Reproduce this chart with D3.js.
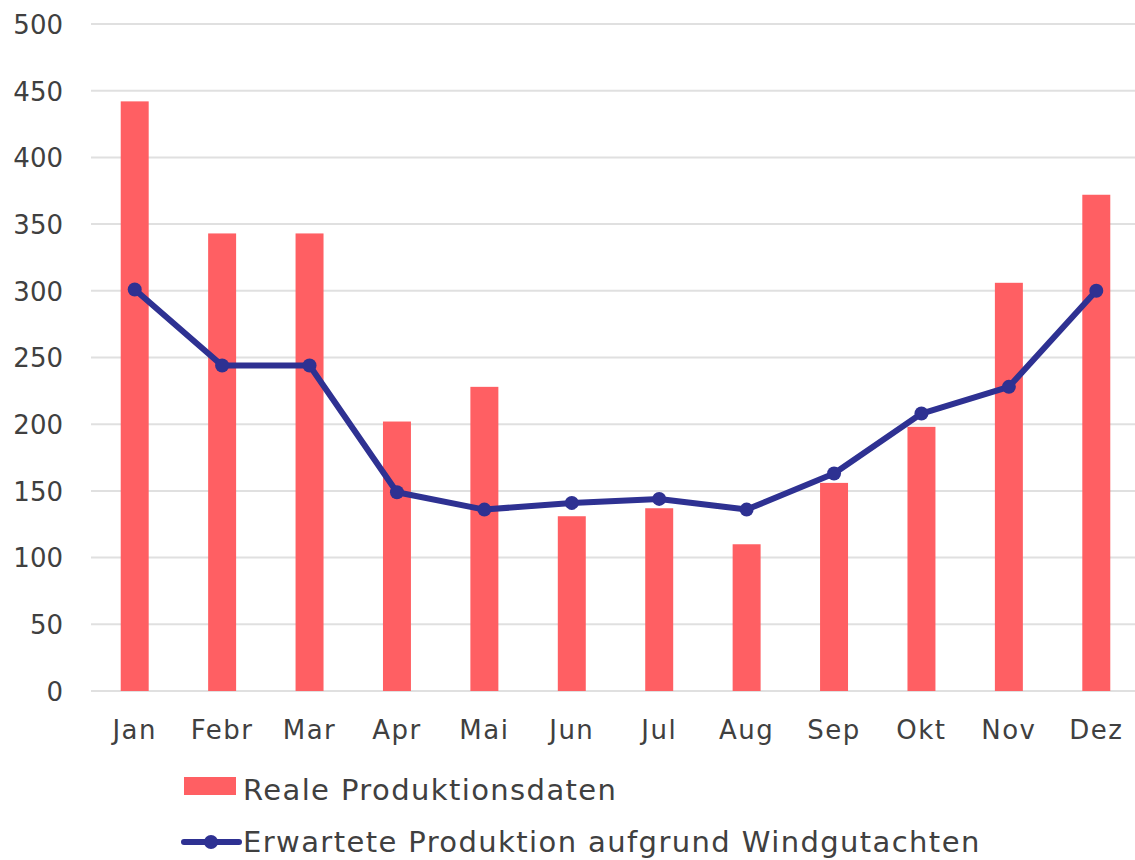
<!DOCTYPE html>
<html>
<head>
<meta charset="utf-8">
<script src="https://cdn.jsdelivr.net/npm/d3@7"></script>
<style>
    body { margin: 0; background: #fff; }
    text { font-family: "DejaVu Sans", Verdana, sans-serif; fill: #404040; }
</style>
</head>
<body>
<div id="chart"></div>
<script>
const months = ['Jan', 'Febr', 'Mar', 'Apr', 'Mai', 'Jun', 'Jul', 'Aug', 'Sep', 'Okt', 'Nov', 'Dez'];
const realValues = [442, 343, 343, 202, 228, 131, 137, 110, 156, 198, 306, 372];
const expectedValues = [301, 244, 244, 149, 136, 141, 144, 136, 163, 208, 228, 300];
const yTicks = [0, 50, 100, 150, 200, 250, 300, 350, 400, 450, 500];
const seriesNames = ['Reale Produktionsdaten', 'Erwartete Produktion aufgrund Windgutachten'];

const width = 1135;
const height = 860;
const barColor = '#ff5f63';
const lineColor = '#2e3192';

const svg = d3.select('#chart').append('svg')
    .attr('width', width)
    .attr('height', height);

const scaleY = d3.scaleLinear()
    .domain([0, 500])
    .range([691, 24]);

const scaleX = d3.scaleBand()
    .domain(months)
    .range([91, 1140])
    .paddingInner(0.68)
    .paddingOuter(0.34);

const center = m => scaleX(m) + scaleX.bandwidth() / 2;

// gridlines
svg.append('g')
    .selectAll('line')
    .data(yTicks)
    .enter()
    .append('line')
    .attr('x1', 91)
    .attr('x2', width)
    .attr('y1', d => scaleY(d))
    .attr('y2', d => scaleY(d))
    .attr('stroke', '#e0e0e0')
    .attr('stroke-width', 2);

// y labels
svg.append('g')
    .selectAll('text')
    .data(yTicks)
    .enter()
    .append('text')
    .attr('x', 63)
    .attr('y', d => scaleY(d))
    .attr('dy', '0.38em')
    .attr('text-anchor', 'end')
    .style('font-size', '26px')
    .text(d => d);

// x labels
svg.append('g')
    .selectAll('text')
    .data(months)
    .enter()
    .append('text')
    .attr('x', d => center(d))
    .attr('y', 739)
    .attr('text-anchor', 'middle')
    .style('font-size', '26px')
    .style('letter-spacing', '1.5px')
    .text(d => d);

// bars
svg.append('g')
    .selectAll('rect')
    .data(realValues)
    .enter()
    .append('rect')
    .attr('x', (d, i) => scaleX(months[i]))
    .attr('y', d => scaleY(d))
    .attr('width', scaleX.bandwidth())
    .attr('height', d => scaleY(0) - scaleY(d))
    .attr('fill', barColor);

// line
const line = d3.line()
    .x((d, i) => center(months[i]))
    .y(d => scaleY(d));

svg.append('path')
    .datum(expectedValues)
    .attr('d', line)
    .attr('fill', 'none')
    .attr('stroke', lineColor)
    .attr('stroke-width', 6)
    .attr('stroke-linejoin', 'round');

svg.append('g')
    .selectAll('circle')
    .data(expectedValues)
    .enter()
    .append('circle')
    .attr('cx', (d, i) => center(months[i]))
    .attr('cy', d => scaleY(d))
    .attr('r', 7)
    .attr('fill', lineColor);

// legend
const legend = svg.append('g');
legend.append('rect')
    .attr('x', 184)
    .attr('y', 777)
    .attr('width', 52)
    .attr('height', 18)
    .attr('fill', barColor);
legend.append('text')
    .attr('x', 243)
    .attr('y', 800)
    .style('font-size', '29px')
    .style('letter-spacing', '1.4px')
    .text(seriesNames[0]);

legend.append('line')
    .attr('x1', 184)
    .attr('x2', 239)
    .attr('y1', 842)
    .attr('y2', 842)
    .attr('stroke', lineColor)
    .attr('stroke-width', 6)
    .attr('stroke-linecap', 'round');
legend.append('circle')
    .attr('cx', 211)
    .attr('cy', 842)
    .attr('r', 7)
    .attr('fill', lineColor);
legend.append('text')
    .attr('x', 243)
    .attr('y', 852)
    .style('font-size', '29px')
    .style('letter-spacing', '1.4px')
    .text(seriesNames[1]);
</script>
</body>
</html>
